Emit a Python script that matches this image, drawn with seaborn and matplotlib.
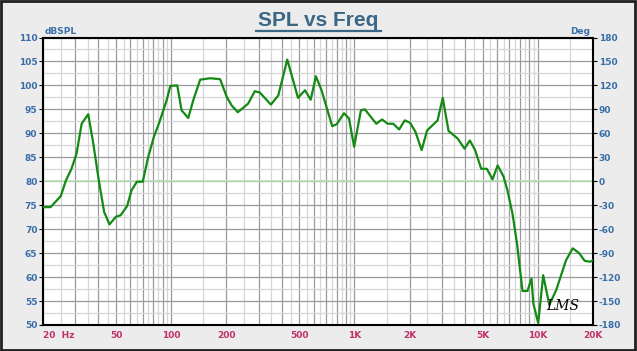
import matplotlib.pyplot as plt
import numpy as np
import pandas as pd
import seaborn as sns
from matplotlib.patches import Rectangle
from matplotlib.lines import Line2D

FREQ_HZ = [20, 22, 25, 26.7, 28.6, 30.5, 32.5, 35.3, 37.6, 40.3, 43.1, 46.1, 50, 53,
           57.5, 60.8, 65, 70, 75, 80.4, 86.4, 94.5, 99, 108, 114, 124, 132, 144,
           163, 185, 201, 214, 231, 263, 286, 305, 350, 384, 430, 492, 537, 577,
           616, 661, 756, 800, 877, 933, 996, 1084, 1139, 1316, 1413, 1519, 1627,
           1752, 1880, 2012, 2151, 2325, 2490, 2840, 3030, 3260, 3660, 3980, 4260,
           4550, 4910, 5270, 5660, 6040, 6500, 6830, 7270, 7700, 8250, 8780, 9240,
           9450, 10050, 10700, 11550, 12600, 14250, 15500, 16800, 18000, 19300, 20000]
SPL_DB = [74.6, 74.6, 76.9, 80.2, 82.6, 85.8, 92.0, 94.0, 87.9, 80.2, 73.6, 71.0, 72.6, 72.9,
          74.8, 78.1, 79.9, 79.9, 85.1, 89.2, 92.4, 96.9, 99.9, 100.0, 94.8, 93.2, 96.9, 101.2,
          101.5, 101.3, 97.6, 95.8, 94.4, 96.2, 98.8, 98.5, 96.0, 97.9, 105.4, 97.4, 99.0, 97.0,
          101.9, 99.0, 91.5, 91.9, 94.2, 93.1, 87.2, 94.8, 95.0, 92.0, 92.9, 92.0, 92.0,
          90.8, 92.7, 92.2, 90.3, 86.5, 90.6, 92.7, 97.4, 90.5, 88.9, 86.8, 88.5,
          86.5, 82.6, 82.6, 80.4, 83.3, 81.0, 78.1, 73.3, 67.0, 57.1, 57.1, 59.7,
          54.5, 50.4, 60.4, 54.2, 57.3, 63.5, 66.0, 65.0, 63.4, 63.2, 63.5]

X_LABELED = [20, 50, 100, 200, 500, 1000, 2000, 5000, 10000, 20000]
X_LABELS = ["20  Hz", "50", "100", "200", "500", "1K", "2K", "5K", "10K", "20K"]
SPL_TICKS = list(range(50, 111, 5))
DEG_TICKS = list(range(-180, 181, 30))

BG = "#ececec"
BLUE = "#3a6ea8"
RED = "#c0306a"
GREEN = "#138a13"

plt.rcParams["axes.unicode_minus"] = False

df = pd.DataFrame({"freq": FREQ_HZ, "spl": SPL_DB})

fig = plt.figure(figsize=(6.37, 3.51), dpi=100, facecolor=BG)
fig.patches.append(Rectangle((0.002, 0.004), 0.995, 0.992, transform=fig.transFigure,
                             fill=False, edgecolor="#202020", linewidth=2))
ax = fig.add_axes([43 / 637, 26 / 351, 550 / 637, 287.5 / 351])
ax.set_facecolor("white")

# grid: dark at 1..9 x decade, light at the halves
major = [m * d for d in (10, 100, 1000) for m in range(1, 10)] + [10000, 20000]
major = [v for v in major if 20 <= v <= 20000]
minor = [(m + 0.5) * d for d in (10, 100, 1000) for m in range(1, 10)] + [15000]
minor = [v for v in minor if 20 < v < 20000]

ax.set_xscale("log")
ax.set_xlim(20, 20000)
ax.set_ylim(50, 110)
ax.set_xticks(major)
ax.set_xticklabels([X_LABELS[X_LABELED.index(v)] if v in X_LABELED else "" for v in major])
ax.set_xticks(minor, minor=True)
ax.set_xticklabels([], minor=True)
ax.set_yticks(SPL_TICKS)
ax.set_yticks(np.arange(52.5, 110, 5), minor=True)
ax.grid(which="major", color="#9a9a9a", linewidth=0.9)
ax.grid(which="minor", color="#d6d6d6", linewidth=0.9)
ax.set_axisbelow(True)
ax.axhline(80, color="#b8e0b8", linewidth=1.2, zorder=1)

sns.lineplot(data=df, x="freq", y="spl", ax=ax, color=GREEN, linewidth=1.6, zorder=3)
ax.set_xlabel("")
ax.set_ylabel("")

ax.tick_params(axis="x", which="both", length=0, labelsize=6.5, labelcolor=RED, pad=4)
ax.tick_params(axis="y", which="major", length=3, labelsize=6.5, labelcolor=BLUE, pad=1)
ax.tick_params(axis="y", which="minor", length=0)
for lab in ax.get_xticklabels():
    lab.set_fontweight("bold")
for lab in ax.get_yticklabels():
    lab.set_fontweight("bold")
ax.get_xticklabels()[0].set_ha("left")

for s in ax.spines.values():
    s.set_color("black")
    s.set_linewidth(1.5)

ax2 = ax.twinx()
ax2.set_ylim(-180, 180)
ax2.set_yticks(DEG_TICKS)
ax2.tick_params(axis="y", length=3, labelsize=6.5, labelcolor=BLUE, pad=1)
for lab in ax2.get_yticklabels():
    lab.set_fontweight("bold")
for s in ax2.spines.values():
    s.set_visible(False)

fig.text(45 / 637, 1 - 31 / 351, "dBSPL", color=BLUE, fontsize=6.5, fontweight="bold",
         ha="left", va="center")
fig.text(590 / 637, 1 - 31 / 351, "Deg", color=BLUE, fontsize=6.5, fontweight="bold",
         ha="right", va="center")

fig.text(318 / 637, 1 - 20 / 351, "SPL vs Freq", color="#3b6787", fontsize=15,
         fontweight="bold", family="Liberation Sans", ha="center", va="center")
fig.add_artist(Line2D([256 / 637, 381 / 637], [1 - 30.5 / 351, 1 - 30.5 / 351],
                      transform=fig.transFigure, color="#3b6787", linewidth=1.6))

ax.text(0.945, 0.04, "LMS", transform=ax.transAxes, fontsize=10, fontstyle="italic",
        family="DejaVu Serif", color="black", ha="center", va="bottom")

fig.savefig("out.png", dpi=100, facecolor=BG)
